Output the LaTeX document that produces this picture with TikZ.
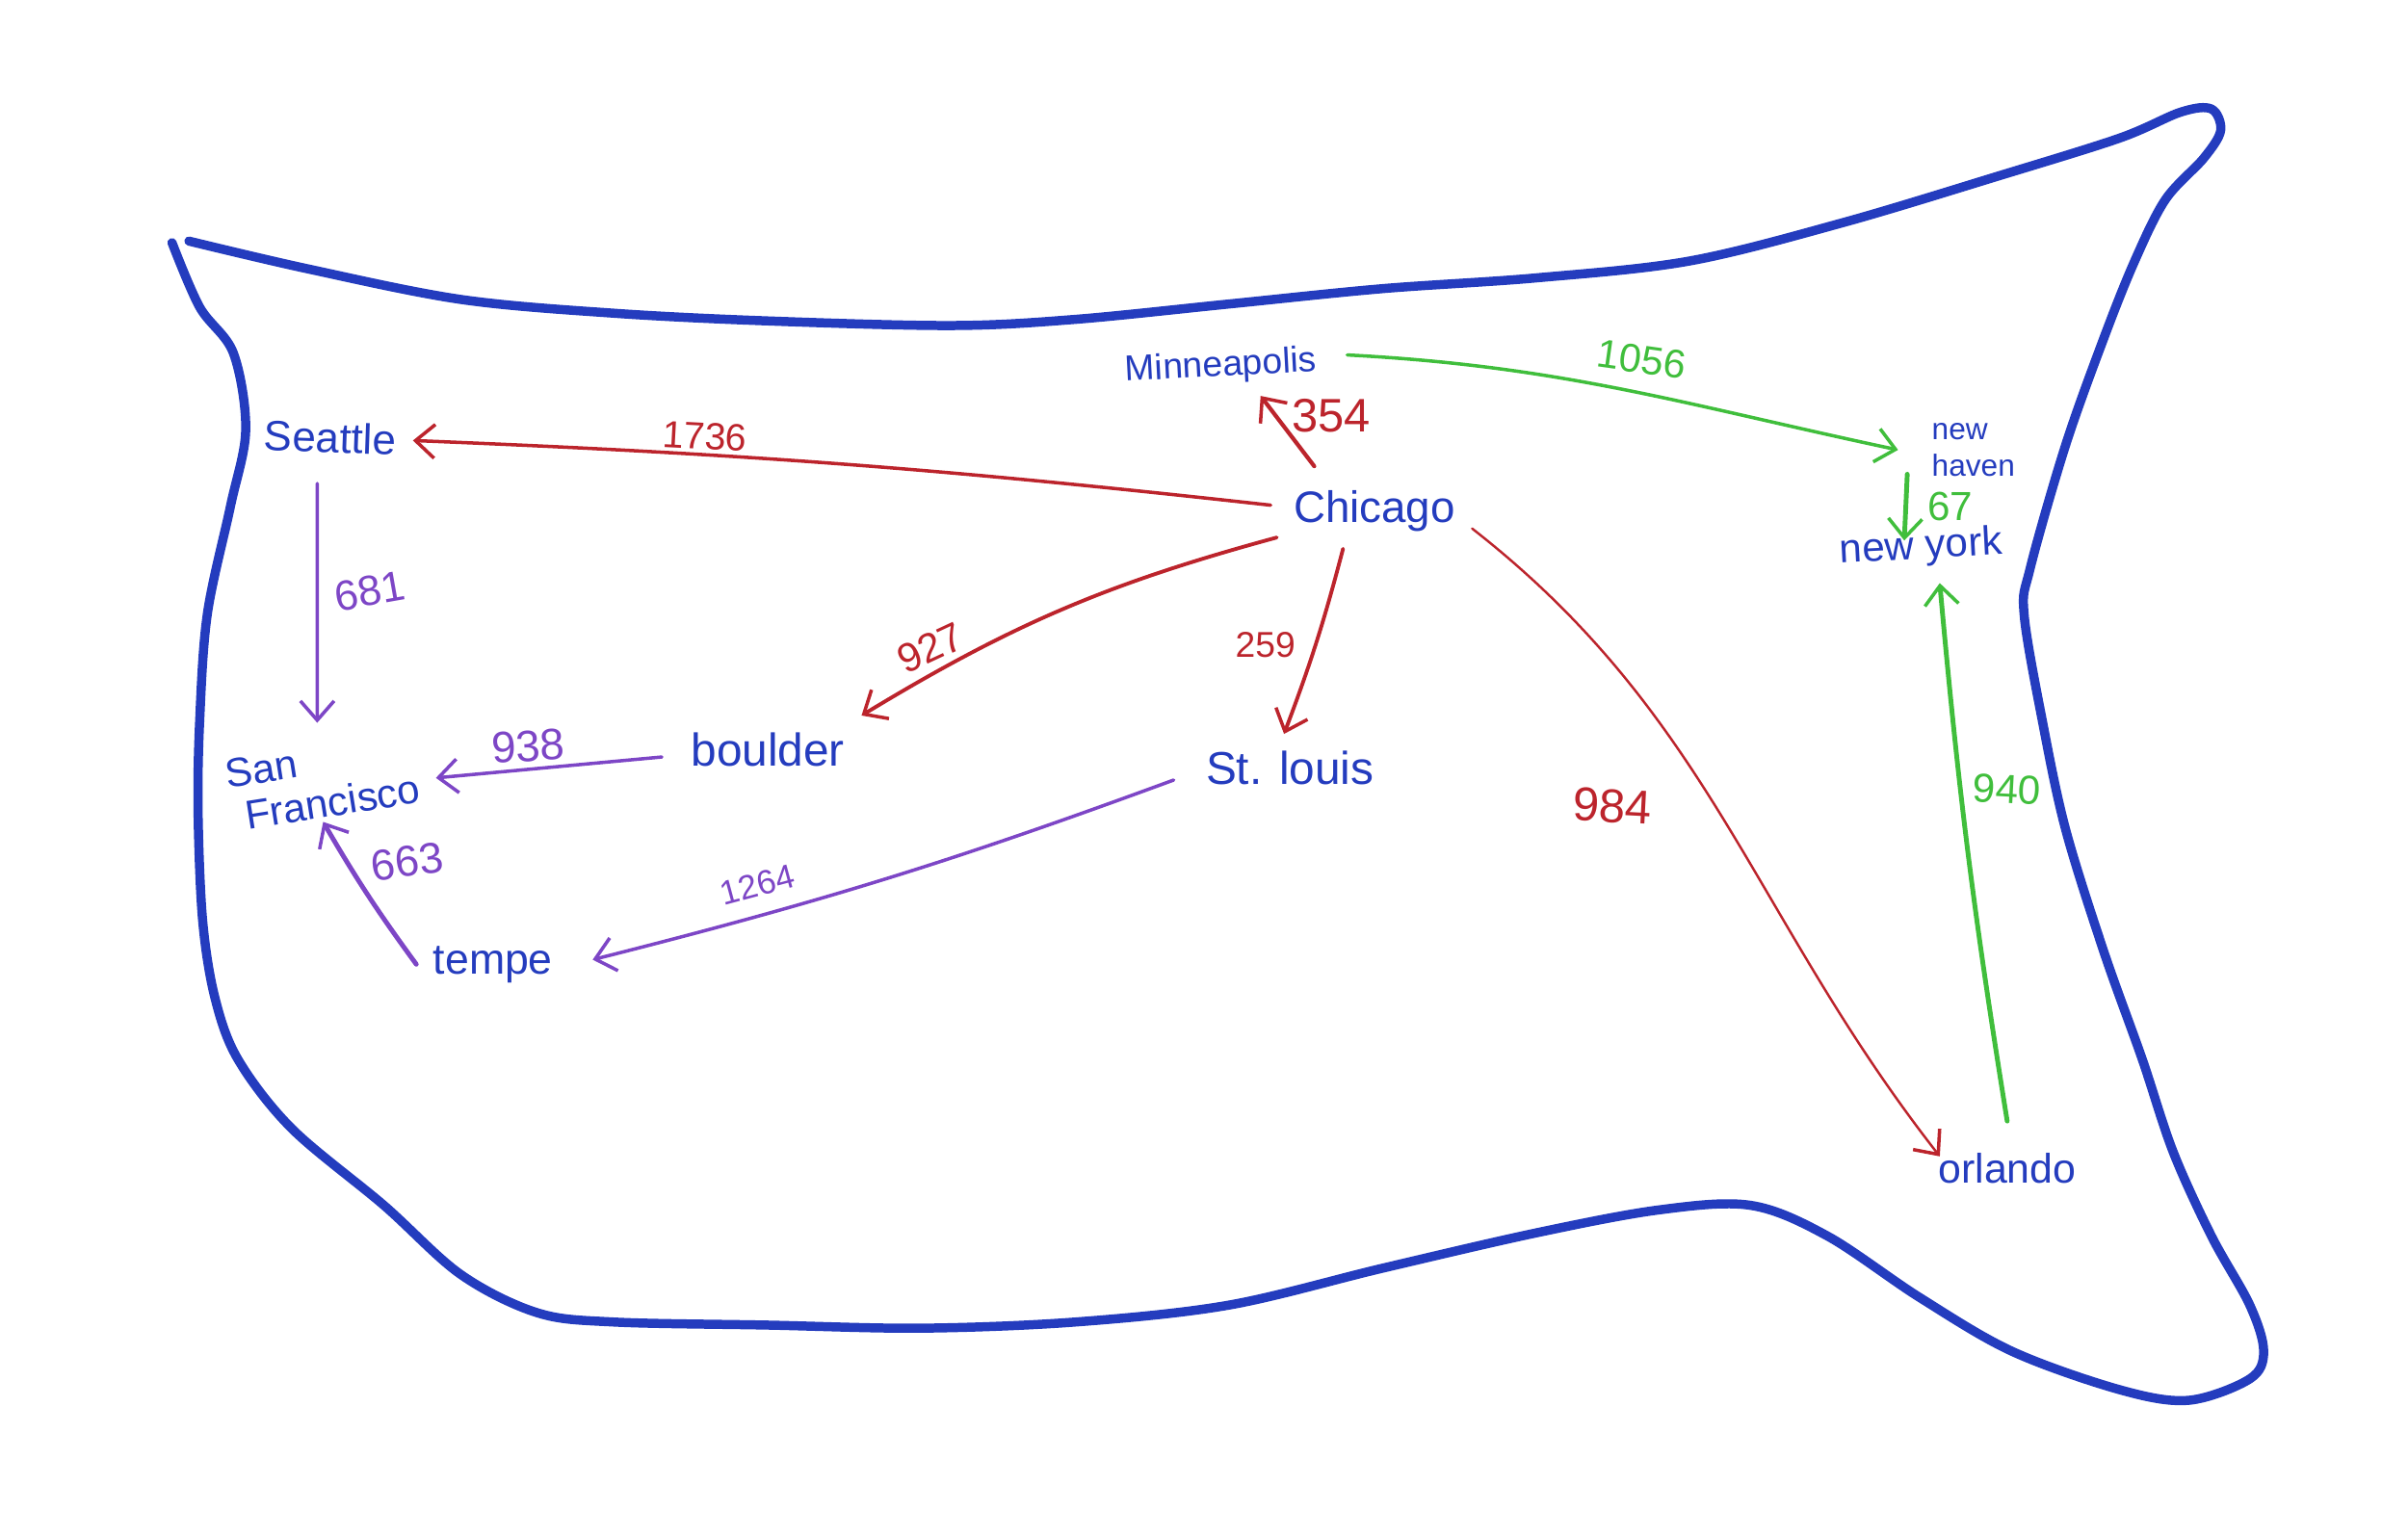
\documentclass[tikz,border=0pt]{standalone}
\usepackage{fontspec}
\setmainfont{Liberation Sans}
\usetikzlibrary{arrows.meta}
\definecolor{mapblue}{RGB}{36, 60, 190}
\definecolor{routered}{RGB}{188, 36, 44}
\definecolor{routegreen}{RGB}{64, 190, 60}
\definecolor{routepurple}{RGB}{125, 70, 198}
\tikzset{
    mapline/.style={draw=mapblue, line width=2.7pt, line join=round, line cap=round},
    cityname/.style={text=mapblue, inner sep=0pt, outer sep=5pt, align=left,
                font=\fontsize{#1}{#1}\selectfont},
    routearr/.style={-{Straight Barb[length=2mm, width=3.5mm, line width=1pt]}, line width=1pt, line cap=round, #1},
    routelbl/.style={inner sep=0pt, text=#1},
    lblsize/.style={font=\fontsize{#1}{#1}\selectfont},
}

\begin{document}
\begin{tikzpicture}[x=0.015944cm, y=-0.015944cm]

    \useasboundingbox (0, 0) rectangle (1568, 1001);

    \draw[mapline] plot[smooth, tension=0.55] coordinates {
        (123,157) (200,175) (300,195) (400,204) (500,209) (620,212) (700,208) (800,198)
        (900,188) (1000,181) (1100,170) (1200,145) (1300,115) (1380,90) (1420,73) (1440,71)
        (1446,85) (1435,103) (1410,130) (1390,170) (1370,220) (1345,290) (1322,370) (1318,400)
        (1330,470) (1345,540) (1370,620) (1395,690) (1415,750) (1440,805) (1465,850) (1474,880)
        (1465,898) (1425,912) (1380,905) (1310,880) (1250,845) (1190,805) (1140,785) (1080,788)
        (1000,803) (900,826) (800,850) (700,861) (600,865) (500,863) (400,861) (350,855)
        (300,830) (250,785) (190,735) (155,690) (140,650) (132,600) (129,530) (130,470)
        (135,400) (150,330) (160,280) (152,230) (130,200) (112,158)};

    \node[cityname=12.5, rotate=-2] (seattle) at (215, 285) {Seattle};
    \node[cityname=12, rotate=9] (sanfran) at (210, 509) {San\\[1pt]\hspace*{4pt}Francisco};
    \node[cityname=13.6] (boulder) at (500, 488) {boulder};
    \node[cityname=12.7] (tempe) at (321, 628) {tempe};
    \node[cityname=13.6] (stlouis) at (840, 500) {St. louis};
    \node[cityname=13] (chicago) at (895, 333) {Chicago};
    \node[cityname=10.6, rotate=3] (minneapolis) at (795, 239) {Minneapolis};
    \node[cityname=9, outer sep=10pt] (newhaven) at (1285, 293) {new\\[2pt]haven};
    \node[cityname=12, rotate=3] (newyork) at (1251, 357) {new york};
    \node[cityname=12.2] (orlando) at (1307, 761) {orlando};

    \draw[routearr=routered] ([shift={(-4,-4)}]chicago.west) to[bend right=2] (seattle.east);
    \draw[routearr=routered, line width=1.2pt] ([shift={(3,-5)}]chicago.150) -- ([shift={(5,-2)}]minneapolis.-48);
    \draw[routearr=routered, line width=1.1pt] (chicago.195) to[bend right=8] (boulder.north east);
    \draw[routearr=routered, line width=1.1pt] (chicago.-130) to[bend left=3] (stlouis.100);
    \draw[routearr=routered, line width=0.7pt] (chicago.-10) to[out=-38, in=128] ([shift={(12,13)}]orlando.north west);
    \draw[routearr=routegreen] ([shift={(9,-4)}]minneapolis.east) to[out=-3, in=168] (newhaven.west);
    \draw[routearr=routegreen, line width=1.4pt] ([shift={(6,-2)}]newhaven.-160) -- ([shift={(-11,-5)}]newyork.center);
    \draw[routearr=routegreen, line width=1.4pt] ([shift={(0,-10)}]orlando.north) to[bend left=2] (newyork.-65);
    \draw[routearr=routepurple] ([shift={(0,9)}]seattle.-110) -- ([shift={(2,-4)}]sanfran.north);
    \draw[routearr=routepurple] ([shift={(-8,5)}]boulder.west) -- ([shift={(2,9)}]sanfran.east);
    \draw[routearr=routepurple, line width=1.4pt] (tempe.west) to[bend left=3] ([shift={(-5,-8)}]sanfran.south);
    \draw[routearr=routepurple] ([shift={(-10,8)}]stlouis.west) to[bend left=3] ([shift={(15,-3)}]tempe.east);

    \node[routelbl=routered, lblsize=11.2, rotate=-3] (lblseattle) at (459, 284) {1736};
    \node[routelbl=routered, lblsize=13.9] (lblminn) at (867, 271) {354};
    \node[routelbl=routered, lblsize=12, rotate=25] (lblboulder) at (606, 422) {927};
    \node[routelbl=routered, lblsize=10.6] (lblstlouis) at (824, 420) {259};
    \node[routelbl=routered, lblsize=14, rotate=-3] (lblorlando) at (1050, 525) {984};
    \node[routelbl=routegreen, lblsize=11.8, rotate=-8] (lblhaven) at (1069, 234) {1056};
    \node[routelbl=routegreen, lblsize=12] (lblnewyork) at (1270, 330) {67};
    \node[routelbl=routegreen, lblsize=12, rotate=-3] (lblorlandony) at (1307, 514) {940};
    \node[routelbl=routepurple, lblsize=12.5, rotate=10] (lblsanfran) at (241, 385) {681};
    \node[routelbl=routepurple, lblsize=13, rotate=3] (lblboulderto) at (344, 486) {938};
    \node[routelbl=routepurple, lblsize=12.8, rotate=8] (lbltempe) at (265, 561) {663};
    \node[routelbl=routepurple, lblsize=10, rotate=15] (lblstltempe) at (493, 576) {1264};

\end{tikzpicture}
\end{document}
